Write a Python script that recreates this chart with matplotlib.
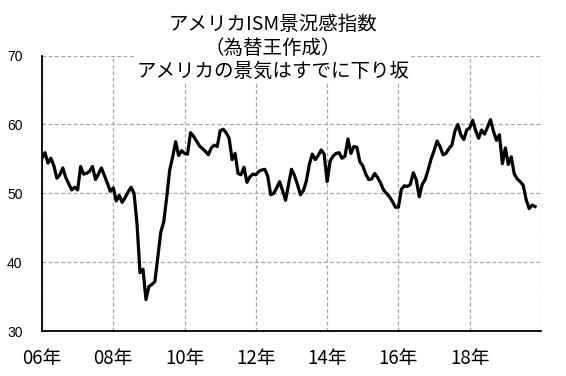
import matplotlib
matplotlib.use('Agg')
import matplotlib.pyplot as plt

plt.rcParams['font.family'] = ['Noto Sans CJK JP', 'DejaVu Sans']

# ISM manufacturing index, monthly, Jan 2006 - Nov 2019
v2006 = [55.1, 55.9, 54.4, 55.1, 54.0, 52.2, 52.7, 53.7, 52.3, 51.4, 50.5, 50.9]
v2007 = [50.5, 53.9, 52.8, 52.9, 53.2, 53.9, 52.0, 52.8, 53.7, 52.6, 51.5, 50.3]
v2008 = [50.8, 48.9, 49.7, 48.7, 49.4, 50.2, 50.9, 50.0, 45.5, 38.5, 39.0, 34.6]
v2009 = [36.5, 36.8, 37.2, 40.8, 44.4, 45.9, 49.5, 53.4, 55.3, 57.5, 55.5, 56.2]
v2010 = [55.8, 55.7, 58.8, 58.3, 57.6, 56.9, 56.5, 56.1, 55.6, 56.6, 57.0, 56.8]
v2011 = [59.1, 59.3, 58.8, 58.0, 54.9, 55.8, 52.9, 52.7, 53.8, 51.6, 52.4, 52.8]
v2012 = [52.7, 53.2, 53.4, 53.5, 52.5, 49.8, 50.0, 50.8, 51.7, 50.4, 49.0, 51.3]
v2013 = [53.5, 52.6, 51.3, 49.8, 50.4, 51.8, 54.2, 55.7, 54.9, 55.5, 56.3, 55.7]
v2014 = [51.7, 54.7, 55.4, 55.8, 55.9, 55.1, 55.4, 57.9, 55.8, 56.8, 56.7, 54.6]
v2015 = [54.0, 52.8, 52.0, 52.1, 52.9, 52.3, 51.5, 50.5, 50.0, 49.5, 48.8, 48.0]
v2016 = [48.0, 50.6, 51.1, 51.0, 51.3, 53.0, 52.0, 49.5, 51.3, 52.0, 53.4, 55.0]
v2017 = [56.2, 57.6, 56.8, 55.6, 55.8, 56.5, 57.0, 59.0, 60.0, 58.5, 57.8, 59.2]
v2018 = [59.5, 60.6, 59.1, 58.0, 59.2, 58.6, 59.6, 60.7, 59.0, 57.7, 58.5, 54.3]
v2019 = [56.6, 54.2, 55.3, 52.8, 52.1, 51.7, 51.2, 49.1, 47.8, 48.3, 48.1]

year_labels = ['06年', '08年', '10年', '12年', '14年', '16年', '18年']
y_ticks = [30, 40, 50, 60, 70]
title_lines = ['アメリカISM景況感指数', '（為替王作成）', 'アメリカの景気はすでに下り坂']

ism = (v2006 + v2007 + v2008 + v2009 + v2010 + v2011 + v2012 + v2013 +
       v2014 + v2015 + v2016 + v2017 + v2018 + v2019)
months = list(range(len(ism)))

W, H = 566, 376
fig = plt.figure(figsize=(W / 100, H / 100), dpi=100)
ax = fig.add_axes([42 / W, 1 - 331.3 / H, 499 / W, (331.3 - 55.5) / H])

ax.plot(months, ism, color='black', lw=2.3, solid_joinstyle='round', zorder=3)

n_months = 14 * 12
ax.set_xlim(0, n_months)
ax.set_ylim(30, 70)

xt = list(range(0, n_months + 1, 24))
ax.set_xticks(xt)
ax.set_xticklabels(year_labels + [''] * (len(xt) - len(year_labels)), fontsize=13.5)
ax.set_yticks(y_ticks)
ax.set_yticklabels([str(v) for v in y_ticks], fontsize=10,
                   family=['Liberation Sans', 'DejaVu Sans'])
ax.tick_params(axis='both', length=0)
ax.tick_params(axis='y', pad=14)
ax.tick_params(axis='x', pad=12)

ax.grid(True, color='#a6a6a6', linestyle=(0, (3, 2)), linewidth=0.9)
ax.set_axisbelow(True)
for s in ['top', 'right']:
    ax.spines[s].set_visible(False)
for s in ['left', 'bottom']:
    ax.spines[s].set_linewidth(1.3)
    ax.spines[s].set_color('black')

fig.text(273 / W, 1 - 48 / H, '\n'.join(title_lines), ha='center', va='center',
         fontsize=14, linespacing=1.15, multialignment='center',
         bbox=dict(facecolor='white', edgecolor='none', pad=1))

fig.savefig('out.png', dpi=100, facecolor='white')
